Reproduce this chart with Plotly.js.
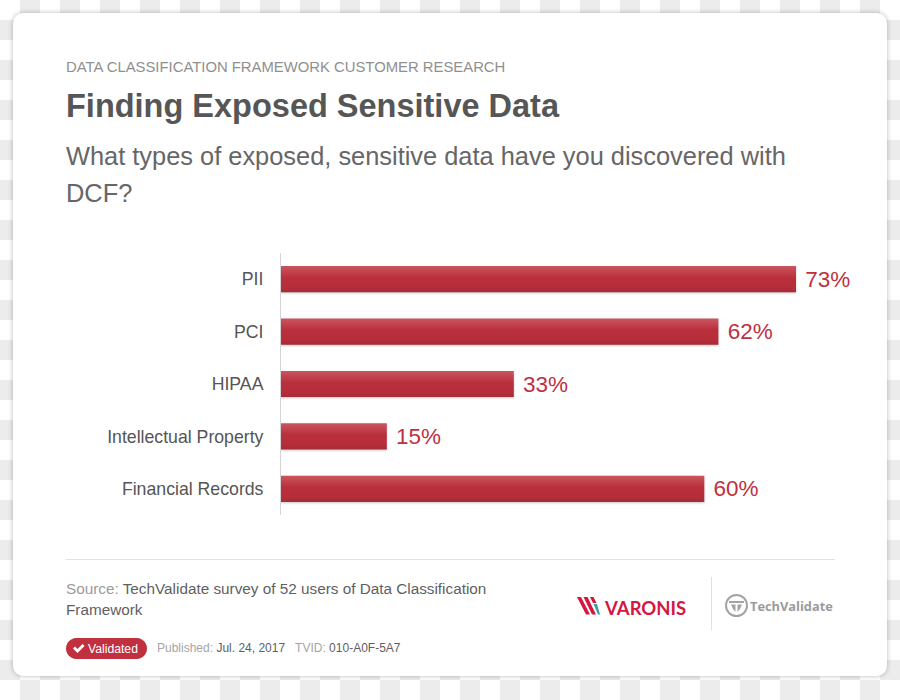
<!DOCTYPE html>
<html>
<head>
<meta charset="utf-8">
<script src="https://cdn.plot.ly/plotly-3.0.1.min.js"></script>
<style>
html,body{margin:0;padding:0;width:900px;height:700px;overflow:hidden}
body{background:conic-gradient(#ececec 25%,#fff 0 50%,#ececec 0 75%,#fff 0);background-size:40px 40px}
#card{position:absolute;left:13px;top:13px;width:874px;height:663px;background:#fff;border-radius:10px;box-shadow:0 0 5px rgba(0,0,0,.28)}
#chart{position:absolute;left:0;top:0;width:900px;height:700px}
</style>
</head>
<body>
<div id="card"></div>
<div id="chart"></div>
<script>
const categories = ["PII", "PCI", "HIPAA", "Intellectual Property", "Financial Records"];
const values = [73, 62, 33, 15, 60];
const eyebrow = "DATA CLASSIFICATION FRAMEWORK CUSTOMER RESEARCH";
const heading = "Finding Exposed Sensitive Data";
const questionLines = ["What types of exposed, sensitive data have you discovered with", "DCF?"];
const sourceLines = ['<span style="color:#9a9a9a">Source:</span> TechValidate survey of 52 users of Data Classification', "Framework"];
const metaText = '<span style="color:#a5a5a5">Published:</span> Jul. 24, 2017 &#160;&#160;<span style="color:#a5a5a5">TVID:</span> 010-A0F-5A7';

const W = 900, H = 700;
const FONT = '"Liberation Sans", Arial, sans-serif';

// Paper coordinates are used so these decorations sit outside the plot domain.
const m = {l: 281, r: 55, t: 253, b: 185};
const fx = x => (x - m.l) / (W - m.l - m.r);
const fy = y => ((H - m.b) - y) / (H - m.t - m.b);

function note(text, x, y, size, color, extra) {
  return Object.assign({
    text, xref: "paper", yref: "paper", x: fx(x - 2), y: fy(y),
    xanchor: "left", yanchor: "middle", showarrow: false,
    align: "left", font: {family: FONT, size, color}
  }, extra || {});
}
function poly(pts, color) {
  const d = pts.map((p, i) => (i ? "L" : "M") + fx(p[0]) + "," + fy(p[1])).join(" ") + " Z";
  return {type: "path", xref: "paper", yref: "paper", path: d, fillcolor: color, line: {width: 0}, layer: "above"};
}
function seg(x0, y0, x1, y1, color, width) {
  return {type: "line", xref: "paper", yref: "paper", x0: fx(x0), y0: fy(y0), x1: fx(x1), y1: fy(y1), line: {color, width}, layer: "above"};
}
function pill(x0, y0, x1, y1, color) {
  const r = (y1 - y0) / 2, pts = [];
  for (let a = 90; a <= 270; a += 15) pts.push([x0 + r + r * Math.cos(a * Math.PI / 180), y0 + r - r * Math.sin(a * Math.PI / 180)]);
  for (let a = 270; a <= 450; a += 15) pts.push([x1 - r + r * Math.cos(a * Math.PI / 180), y0 + r - r * Math.sin(a * Math.PI / 180)]);
  return poly(pts, color);
}

const annotations = [
  note(eyebrow, 66, 67, 14.85, "#909090"),
  note("<b>" + heading + "</b>", 66, 106, 32.5, "#565656"),
  note(questionLines[0], 66, 156, 25.4, "#666666"),
  note(questionLines[1], 66, 193, 25.4, "#666666"),
  note(sourceLines[0], 66, 588, 15.3, "#5f5f5f"),
  note(sourceLines[1], 66, 609, 15.3, "#5f5f5f"),
  note("Validated", 88, 648.5, 12.2, "#ffffff"),
  note(metaText, 157, 648, 12, "#5f5f5f"),
  note("<b>VARONIS</b>", 604, 607.5, 18.5, "#d5173f", {font: {family: "Lato, sans-serif", size: 18.5, color: "#d5173f"}}),
  note("<b>TechValidate</b>", 750, 606, 12.8, "#9b9b9b", {font: {family: '"Open Sans", sans-serif', size: 12.8, color: "#9b9b9b"}})
];

const shapes = [
  seg(66, 559.5, 835, 559.5, "#e2e2e2", 1),
  seg(711.5, 577, 711.5, 630, "#e0e0e0", 1),
  pill(66, 638, 147, 659, "#c0303f"),
  poly([[73, 648.5], [75, 646.5], [77.5, 649], [82.5, 644], [84.5, 646], [77.5, 653]], "#ffffff"),
  // Varonis mark
  poly([[577, 597], [581, 597], [590, 614.5], [586, 614.5]], "#d5173f"),
  poly([[583.5, 597], [587.5, 597], [596, 614.5], [592, 614.5]], "#d5173f"),
  poly([[590, 597], [593.5, 597], [596.5, 603], [593, 603]], "#d5173f"),
  poly([[593.5, 604], [597, 604], [600, 614.5], [598, 614.5]], "#3f9aa6"),
  // TechValidate mark
  {type: "circle", xref: "paper", yref: "paper", x0: fx(726), y0: fy(595), x1: fx(747), y1: fy(616), line: {color: "#a3a3a3", width: 2}, fillcolor: "rgba(0,0,0,0)", layer: "above"},
  seg(729, 602, 744, 602, "#a3a3a3", 2),
  poly([[731, 604.5], [735.5, 604.5], [735.5, 612], [733, 609]], "#a3a3a3"),
  poly([[737.5, 604.5], [742, 604.5], [740, 609], [737.5, 612]], "#a3a3a3")
];

const data = [{
  type: "bar", orientation: "h",
  y: categories, x: values,
  marker: {color: "#b92f3c", line: {width: 0}},
  text: values.map(v => "\u00a0" + v + "%"),
  textposition: "outside",
  cliponaxis: false,
  textfont: {family: FONT, size: 22.5, color: "#c0303f"},
  hoverinfo: "skip"
}];

const layout = {
  width: W, height: H,
  margin: m,
  paper_bgcolor: "rgba(0,0,0,0)",
  plot_bgcolor: "rgba(0,0,0,0)",
  showlegend: false,
  bargap: 0.5,
  font: {family: FONT},
  xaxis: {range: [0, 564 / (515 / 73)], visible: false, fixedrange: true},
  yaxis: {
    type: "category", autorange: "reversed", fixedrange: true,
    showline: true, linecolor: "#d4d4d4", linewidth: 1, showgrid: false, zeroline: false,
    ticks: "outside", ticklen: 13, tickcolor: "rgba(0,0,0,0)",
    tickfont: {family: FONT, size: 17.7, color: "#555555"}
  },
  annotations, shapes
};

Plotly.newPlot("chart", data, layout, {displayModeBar: false, staticPlot: true}).then(gd => {
  // Plotly bars have no gradient fill, so the reference's sheen is added to the drawn SVG.
  const svg = gd.querySelector("svg.main-svg");
  const ns = "http://www.w3.org/2000/svg";
  const defs = svg.querySelector("defs") || svg.insertBefore(document.createElementNS(ns, "defs"), svg.firstChild);
  const g = document.createElementNS(ns, "linearGradient");
  g.setAttribute("id", "barSheen");
  g.setAttribute("x1", "0"); g.setAttribute("y1", "0"); g.setAttribute("x2", "0"); g.setAttribute("y2", "1");
  [[0, "#c9565f"], [0.45, "#b92f3c"], [0.8, "#b72e3b"], [1, "#a62a36"]].forEach(s => {
    const st = document.createElementNS(ns, "stop");
    st.setAttribute("offset", s[0]); st.setAttribute("stop-color", s[1]);
    g.appendChild(st);
  });
  defs.appendChild(g);
  gd.querySelectorAll(".barlayer .point path").forEach(p => {
    p.style.fill = "url(#barSheen)";
    p.style.filter = "drop-shadow(0 1px 1px rgba(0,0,0,.22))";
  });
});
</script>
</body>
</html>
